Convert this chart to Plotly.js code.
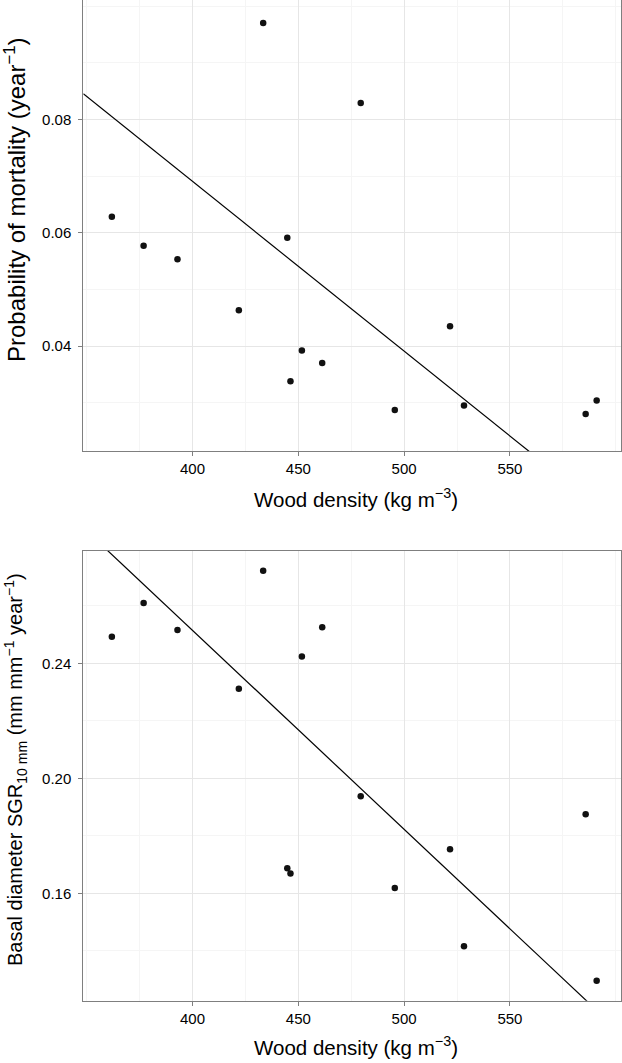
<!DOCTYPE html>
<html>
<head>
<meta charset="utf-8">
<script src="https://cdn.plot.ly/plotly-3.0.1.min.js"></script>
<style>html,body{margin:0;padding:0;background:#fff;}#chart{width:622px;height:1063px;}</style>
</head>
<body>
<div id="chart"></div>
<script>
// Wood density of the 15 species (kg m^-3)
const woodDensity = [361.9, 376.9, 392.9, 421.9, 433.4, 444.8, 446.3, 451.7, 461.3, 479.5, 495.6, 521.7, 528.3, 585.8, 591.0];
// Probability of mortality (year^-1)
const mortality = [0.0628, 0.0577, 0.0553, 0.0463, 0.0970, 0.0591, 0.0338, 0.0392, 0.0370, 0.0829, 0.0287, 0.0435, 0.0295, 0.0280, 0.0304];
// Basal diameter SGR10mm (mm mm^-1 year^-1)
const growth = [0.2493, 0.2610, 0.2516, 0.2312, 0.2722, 0.1688, 0.1669, 0.2424, 0.2526, 0.1938, 0.1619, 0.1754, 0.1416, 0.1875, 0.1296];
// Fitted lines (end points in data units)
const fitX = [348.4, 602.5];
const fitMortality = [0.0845, 0.0084];
const fitGrowth = [0.2872, 0.1114];

const xTicks = [400, 450, 500, 550];
const yTicksTop = [0.04, 0.06, 0.08];
const yTicksBottom = [0.16, 0.20, 0.24];
const yTickTextTop = ['0.04', '0.06', '0.08'];
const yTickTextBottom = ['0.16', '0.20', '0.24'];

const W = 622, H = 1063;
const font = {family: 'Liberation Sans, Arial, sans-serif', color: '#000'};
const xDom = [83.3 / W, 621 / W];
const topDom = [1 - 451 / H, 1];
const botDom = [1 - 1000.7 / H, 1 - 550.7 / H];

const markerStyle = {color: '#111', size: 6.5};
const lineStyle = {color: '#000', width: 1.2};

const traces = [
  {x: woodDensity, y: mortality, mode: 'markers', type: 'scatter', marker: markerStyle, xaxis: 'x', yaxis: 'y', hoverinfo: 'none'},
  {x: fitX, y: fitMortality, mode: 'lines', type: 'scatter', line: lineStyle, xaxis: 'x', yaxis: 'y', hoverinfo: 'none'},
  {x: woodDensity, y: growth, mode: 'markers', type: 'scatter', marker: markerStyle, xaxis: 'x2', yaxis: 'y2', hoverinfo: 'none'},
  {x: fitX, y: fitGrowth, mode: 'lines', type: 'scatter', line: lineStyle, xaxis: 'x2', yaxis: 'y2', hoverinfo: 'none'}
];

function xAxis(anchor) {
  return {
    domain: xDom, anchor: anchor, range: [348.4, 602.5],
    tickmode: 'array', tickvals: xTicks, ticktext: xTicks.map(String),
    ticks: 'outside', ticklen: 4, tickcolor: '#7f7f7f', tickwidth: 1,
    showline: true, linecolor: '#7f7f7f', linewidth: 1, mirror: true,
    showgrid: true, gridcolor: '#e6e6e6', gridwidth: 1,
    minor: {dtick: 25, tick0: 375, showgrid: true, gridcolor: '#f5f5f5', gridwidth: 1},
    zeroline: false, tickfont: Object.assign({size: 15}, font), automargin: false
  };
}
function yAxis(anchor, dom, range, vals, text, minorStep, minorStart) {
  return {
    domain: dom, anchor: anchor, range: range,
    tickmode: 'array', tickvals: vals, ticktext: text,
    ticks: 'outside', ticklen: 4, tickcolor: '#7f7f7f', tickwidth: 1,
    ticklabelstandoff: 4,
    showline: true, linecolor: '#7f7f7f', linewidth: 1, mirror: true,
    showgrid: true, gridcolor: '#e6e6e6', gridwidth: 1,
    minor: {dtick: minorStep, tick0: minorStart, showgrid: true, gridcolor: '#f5f5f5', gridwidth: 1},
    zeroline: false, tickfont: Object.assign({size: 15}, font), automargin: false
  };
}

const layout = {
  width: W, height: H,
  margin: {l: 0, r: 0, t: 0, b: 0},
  paper_bgcolor: '#fff', plot_bgcolor: '#fff',
  showlegend: false,
  xaxis: xAxis('y'),
  yaxis: yAxis('x', topDom, [0.02147, 0.10106], yTicksTop, yTickTextTop, 0.01, 0.03),
  xaxis2: xAxis('y2'),
  yaxis2: yAxis('x2', botDom, [0.1227, 0.2792], yTicksBottom, yTickTextBottom, 0.02, 0.14),
  annotations: [
    {text: 'Wood density (kg m<sup>\u22123</sup>)', xref: 'paper', yref: 'paper', x: 356 / W, y: 1 - 498 / H, xanchor: 'center', yanchor: 'middle', showarrow: false, font: Object.assign({size: 20.5}, font)},
    {text: 'Wood density (kg m<sup>\u22123</sup>)', xref: 'paper', yref: 'paper', x: 356 / W, y: 1 - 1046 / H, xanchor: 'center', yanchor: 'middle', showarrow: false, font: Object.assign({size: 20.5}, font)},
    {text: 'Probability of mortality (year<sup>\u22121</sup>)', xref: 'paper', yref: 'paper', x: 15 / W, y: 1 - 200 / H, xanchor: 'center', yanchor: 'middle', textangle: -90, showarrow: false, font: Object.assign({size: 24}, font)},
    {text: 'Basal diameter SGR<sub>10 mm</sub> (mm mm<sup>\u22121</sup> year<sup>\u22121</sup>)', xref: 'paper', yref: 'paper', x: 15 / W, y: 1 - 770 / H, xanchor: 'center', yanchor: 'middle', textangle: -90, showarrow: false, font: Object.assign({size: 20}, font)}
  ]
};

Plotly.newPlot('chart', traces, layout, {staticPlot: true, displayModeBar: false});
</script>
</body>
</html>
